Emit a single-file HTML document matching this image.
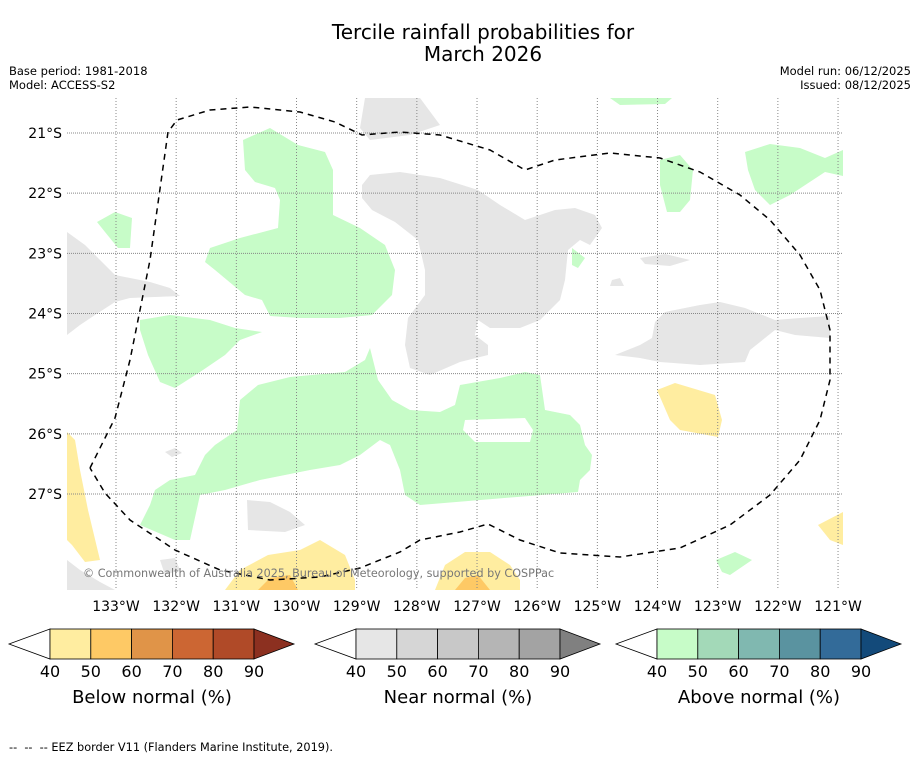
<!DOCTYPE html>
<html><head><meta charset="utf-8"><style>
body{margin:0;background:#fff;font-family:"Liberation Sans","DejaVu Sans",sans-serif;}
svg text{font-family:"DejaVu Sans","Liberation Sans",sans-serif;}
</style></head><body>
<svg width="919" height="758" viewBox="0 0 919 758" xmlns="http://www.w3.org/2000/svg">
<rect width="919" height="758" fill="#fff"/>
<text x="483" y="39" font-size="20" text-anchor="middle">Tercile rainfall probabilities for</text>
<text x="483" y="61" font-size="20" text-anchor="middle">March 2026</text>
<text x="9" y="75" font-size="11.5">Base period: 1981-2018</text>
<text x="9" y="89" font-size="11.5">Model: ACCESS-S2</text>
<text x="911" y="75" font-size="11.5" text-anchor="end">Model run: 06/12/2025</text>
<text x="911" y="89" font-size="11.5" text-anchor="end">Issued: 08/12/2025</text>
<g id="map"></g>
<g id="bars"></g>
<text x="9" y="751" font-size="11.3">-- &#160;-- &#160;-- EEZ border V11 (Flanders Marine Institute, 2019).</text>
</svg>
<script>
const lonTicks=[133,132,131,130,129,128,127,126,125,124,123,122,121];
const latTicks=[21,22,23,24,25,26,27];
const cbLabels=[40,50,60,70,80,90];
const cbTitles=["Below normal (%)","Near normal (%)","Above normal (%)"];
const cbColors=[
 ["#ffeda0","#fec965","#e09448","#cc6633","#b04a28","#8c3020"],
 ["#e6e6e6","#d6d6d6","#c8c8c8","#b5b5b5","#a3a3a3","#808080"],
 ["#c7fcc8","#a3d9b8","#80b8b0","#5a93a0","#336b99","#134a7a"]];
const NS="http://www.w3.org/2000/svg";
const X0=67,X1=843,Y0=98,Y1=590;
const xLon=l=>116+(133-l)*60.17;
const yLat=l=>133+(l-21)*60.17;
function mk(t,a,p){const e=document.createElementNS(NS,t);for(const k in a)e.setAttribute(k,a[k]);p.appendChild(e);return e;}
const map=document.getElementById('map');
const G="#c7fcc8",N="#e6e6e6",Y="#ffeda0",O="#fec965";
const shapes=[
[G,"243,140 270,128 298,145 325,152 333,170 333,215 360,228 385,245 395,270 392,295 372,315 340,318 300,318 270,316 262,300 245,295 215,270 205,262 210,248 240,238 278,228 280,200 275,188 255,182 245,170"],
[G,"140,320 170,315 210,320 235,328 262,332 240,340 225,355 200,372 175,388 160,382 148,355 140,330"],
[G,"97,222 115,212 132,218 130,248 118,248 105,232"],
[G,"240,400 258,385 290,377 345,372 365,360 370,348 378,380 392,400 410,410 440,412 455,405 460,385 500,378 525,372 540,375 545,410 570,415 580,425 585,445 592,455 590,470 580,480 578,492 420,505 405,495 400,470 390,445 380,440 360,455 340,465 310,470 260,480 225,490 200,495 190,540 175,540 140,525 150,505 155,490 170,480 195,475 205,455 215,445 237,430"],
["#fff","465,420 525,418 533,430 530,442 475,442 463,430"],
[G,"745,152 770,144 800,148 825,158 843,150 843,176 825,172 790,195 770,205 755,190 748,170"],
[G,"660,160 680,155 693,170 690,200 680,212 667,212 660,185"],
[G,"610,98 672,98 665,104 620,105"],
[G,"572,248 585,258 578,268 572,265"],
[G,"716,560 735,552 752,560 730,575 722,572"],
[N,"365,98 420,98 440,125 410,135 370,140 360,128"],
[N,"370,175 400,172 440,178 478,190 500,205 525,220 555,210 575,208 595,215 602,228 590,245 580,240 568,250 565,280 560,300 540,320 520,328 490,328 478,320 475,335 488,345 488,355 460,362 430,375 410,368 405,345 408,318 425,295 425,270 418,240 395,222 372,210 362,198 362,185"],
[N,"67,232 85,245 115,275 150,282 170,288 180,296 130,298 115,302 95,315 80,325 67,335"],
[N,"655,322 665,312 700,305 720,302 745,308 775,320 800,318 830,316 830,338 795,335 775,330 750,350 745,362 700,365 660,362 640,358 615,355 640,345 652,338"],
[N,"640,258 665,254 690,260 670,266 645,264"],
[N,"612,280 620,278 624,286 610,286"],
[N,"165,452 175,448 182,453 172,457"],
[N,"247,500 270,502 290,512 305,525 285,532 248,530"],
[N,"67,560 80,570 100,582 115,590 67,590"],
[N,"160,560 175,558 180,570 165,575"],
[Y,"67,432 75,440 80,470 88,510 100,560 85,562 72,545 67,540"],
[Y,"657,390 675,383 715,395 722,420 718,437 680,430 670,420"],
[Y,"225,590 240,570 268,555 300,550 320,540 345,555 355,580 355,590"],
[O,"258,590 270,578 290,575 298,590"],
[Y,"435,590 445,565 465,552 490,552 510,565 520,580 520,590"],
[O,"455,590 465,578 478,575 490,590"],
[Y,"818,525 843,512 843,545 830,540"]];
shapes.forEach(s=>{const p=mk('polygon',{points:s[1],fill:s[0]},map);

});
lonTicks.forEach(l=>{const x=xLon(l);
const ln=mk('line',{x1:x,x2:x,y1:Y0,y2:Y1,stroke:"#888","stroke-width":1,"stroke-dasharray":"1,2"},map);


const t=mk('text',{x:x,y:611,"font-size":14,"text-anchor":"middle"},map);t.textContent=l+"°W";

});
latTicks.forEach(l=>{const y=yLat(l);
const ln=mk('line',{x1:X0,x2:X1,y1:y,y2:y,stroke:"#888","stroke-width":1,"stroke-dasharray":"1,1"},map);


const t=mk('text',{x:62,y:y+5,"font-size":14,"text-anchor":"end"},map);t.textContent=l+"°S";

});
const eez=mk('polyline',{points:"90,468 115,418 130,360 150,260 168,132 177,120 210,110 250,107 300,112 335,122 362,135 400,132 440,135 490,150 525,170 555,160 610,153 660,158 700,172 740,195 770,220 800,255 820,290 830,330 830,380 820,420 800,460 770,495 730,525 680,548 620,557 560,553 520,540 488,524 460,532 420,540 400,552 360,568 320,577 270,580 220,570 175,550 130,520 105,493 90,468",fill:"none",stroke:"#000","stroke-width":1.5,"stroke-dasharray":"6,5"},map);


const cr=mk('text',{x:83,y:577,"font-size":11.2,fill:"#777"},map);cr.textContent="© Commonwealth of Australia 2025, Bureau of Meteorology, supported by COSPPac";


const bars=document.getElementById('bars');
const starts=[50,356,657];
starts.forEach((sx,i)=>{const w=40.8,yT=629,yB=659,ym=644;
const g=mk('g',{},bars);


const lt=mk('polygon',{points:`${sx},${yT} ${sx-41},${ym} ${sx},${yB}`,fill:"#fff",stroke:"#000","stroke-width":0.8},g);


for(let k=0;k<5;k++){const r=mk('rect',{x:sx+k*w,y:yT,width:w,height:yB-yT,fill:cbColors[i][k],stroke:"#000","stroke-width":0.8},g);

}
const ex=sx+5*w;
const rt=mk('polygon',{points:`${ex},${yT} ${ex+40},${ym} ${ex},${yB}`,fill:cbColors[i][5],stroke:"#000","stroke-width":0.8},g);


cbLabels.forEach((v,k)=>{const t=mk('text',{x:sx+k*w,y:677,"font-size":16,"text-anchor":"middle"},g);t.textContent=v;

});
const tt=mk('text',{x:sx+2.5*w,y:703,"font-size":18,"text-anchor":"middle"},g);tt.textContent=cbTitles[i];

});
</script>
</body></html>
